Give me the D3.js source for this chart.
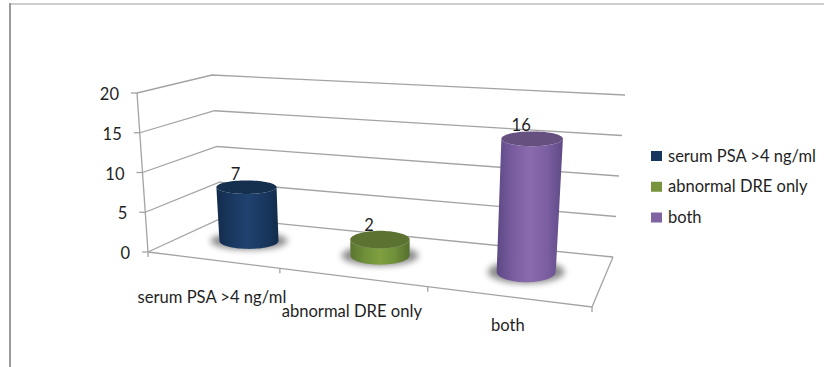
<!DOCTYPE html>
<html>
<head>
<meta charset="utf-8">
<script src="https://cdn.jsdelivr.net/npm/d3@7"></script>
<style>
  html, body { margin: 0; padding: 0; background: #fff; }
  svg { display: block; }
  text { font-family: Lato, "Open Sans", sans-serif; fill: #1f1f1f; }
</style>
</head>
<body>
<svg id="chart" width="824" height="367"></svg>
<script>
// Chart content
const categories = ["serum PSA >4 ng/ml", "abnormal DRE only", "both"];
const values = [7, 2, 16];
const yTicks = [0, 5, 10, 15, 20];
const sideShades = [
  ["#122c4c", "#1a3860", "#1f4270", "#1a3860", "#122c4c"],
  ["#5a7530", "#70903a", "#7f9f40", "#70903a", "#566f2d"],
  ["#5d4885", "#7a5da0", "#8a6bad", "#7c5fa2", "#5f4a86"]
];
const topColors = ["#15304f", "#5c7230", "#66507f"];
const legendColors = ["#17375e", "#77933c", "#8064a2"];

// Box corners of the oblique 3D plot, as [x, y] on the page
const floorFL = [148, 252], floorBL = [222, 218], floorBR = [613, 257], floorFR = [592, 307];
const ceilFL = [137, 93], ceilBL = [212, 75], ceilBR = [625, 95], ceilFR = [603, 128];

const svg = d3.select("#chart");
const defs = svg.append("defs");

const mix = (a, b, t) => [a[0] + (b[0] - a[0]) * t, a[1] + (b[1] - a[1]) * t];

// Category spacing along the front edge widens toward the viewer's right
const uScale = d3.scaleLinear().domain([0, 1, 2, 3]).range([0, 0.297, 0.63, 1]);
const vScale = d3.scaleLinear().domain([0, 20]).range([0, 1]);

// u: along the categories, d: front (0) to back (1), v: data value
function project(u, d, v) {
  const floor = mix(mix(floorFL, floorFR, u), mix(floorBL, floorBR, u), d);
  const ceil = mix(mix(ceilFL, ceilFR, u), mix(ceilBL, ceilBR, u), d);
  return mix(floor, ceil, vScale(v));
}

const line = d3.line();
const gridColor = "#a3a3a3";

// Frame around the chart area
svg.append("line").attr("x1", 9).attr("y1", 4).attr("x2", 824).attr("y2", 4)
  .attr("stroke", "#bdbdbd").attr("stroke-width", 1.5);
svg.append("line").attr("x1", 10).attr("y1", 3).attr("x2", 10).attr("y2", 367)
  .attr("stroke", "#9a9a9a").attr("stroke-width", 2);

// Walls: each value level runs front-left -> back-left -> back-right
const grid = svg.append("g").attr("fill", "none").attr("stroke", gridColor).attr("stroke-width", 1.3);
yTicks.forEach(t => {
  grid.append("path").attr("d", line([project(0, 0, t), project(0, 1, t), project(1, 1, t)]));
  const p = project(0, 0, t);
  grid.append("line").attr("x1", p[0] - 6).attr("y1", p[1]).attr("x2", p[0]).attr("y2", p[1]);
});
grid.append("path").attr("d", line([project(0, 0, 0), project(0, 0, 20)]));
// Floor front and right edges with category ticks
grid.append("path").attr("d", line([project(0, 0, 0), project(1, 0, 0), project(1, 1, 0)]));
[0, 1, 2, 3].forEach(i => {
  const p = project(uScale(i), 0, 0);
  grid.append("line").attr("x1", p[0]).attr("y1", p[1]).attr("x2", p[0]).attr("y2", p[1] + 5);
});

// Value-axis labels
svg.append("g").selectAll("text").data(yTicks).join("text")
  .attr("x", d => project(0, 0, d)[0] - 18)
  .attr("y", d => project(0, 0, d)[1] + 7)
  .attr("text-anchor", "end")
  .attr("font-size", 16.5)
  .text(d => d);

// Blur for the soft shadow under each cylinder
defs.append("filter").attr("id", "soft").attr("x", "-30%").attr("y", "-60%").attr("width", "160%").attr("height", "220%")
  .append("feGaussianBlur").attr("stdDeviation", 3);

const radiusU = 0.071, radiusD = 0.22, axisDepth = 0.53;
const ringAngles = d3.range(0, 2 * Math.PI, Math.PI / 36);

categories.forEach((name, i) => {
  const uc = uScale(i + 0.5);

  // Level ellipse around the cylinder axis at value v; depth sets how open it looks
  const ellipseAt = v => {
    const c = project(uc, axisDepth, v);
    const rx = project(uc + radiusU, axisDepth, v)[0] - c[0];
    const ry = radiusD * (project(uc, 0, v)[1] - project(uc, 1, v)[1]);
    return { c, rx, ry };
  };
  const ring = (e, a, kx = 1, ky = 1) => [e.c[0] + e.rx * kx * Math.cos(a), e.c[1] + e.ry * ky * Math.sin(a)];
  const base = ellipseAt(0), cap = ellipseAt(values[i]);

  const grad = defs.append("linearGradient").attr("id", `side${i}`);
  sideShades[i].forEach((c, j) => {
    grad.append("stop").attr("offset", `${j * 25}%`).attr("stop-color", c);
  });

  // Contact shadow
  svg.append("path")
    .attr("d", line(ringAngles.map(a => ring(base, a, 1.3, 1.12))) + "Z")
    .attr("fill", "#5e5e5e")
    .attr("opacity", 0.72)
    .attr("filter", "url(#soft)");

  // Cylinder wall: front half of the base joined to the front half of the top
  const front = d3.range(0, Math.PI + 0.001, Math.PI / 36);
  const wall = front.map(a => ring(base, a)).concat(front.slice().reverse().map(a => ring(cap, a)));
  svg.append("path").attr("d", line(wall) + "Z").attr("fill", `url(#side${i})`);

  // Cylinder cap
  svg.append("path")
    .attr("d", line(ringAngles.map(a => ring(cap, a))) + "Z")
    .attr("fill", topColors[i]);

  // Value label above the cap
  svg.append("text")
    .attr("x", cap.c[0] - 11)
    .attr("y", cap.c[1] - cap.ry)
    .attr("text-anchor", "middle")
    .attr("font-size", 16.5)
    .text(values[i]);
});

// Category labels stepping down along the slanted front edge
const labelBaseline = d3.scalePoint().domain(categories).range([303, 331]);
svg.append("g").selectAll("text").data(categories).join("text")
  .attr("x", (d, i) => project(uScale(i + 0.5), 0, 0)[0] - 2)
  .attr("y", d => labelBaseline(d))
  .attr("text-anchor", "middle")
  .attr("font-size", 16.6)
  .text(d => d);

// Legend
const legendY = d3.scalePoint().domain(categories).range([156, 217.5]);
const legend = svg.append("g").selectAll("g").data(categories).join("g")
  .attr("transform", d => `translate(651,${legendY(d)})`);
legend.append("rect").attr("x", 0).attr("y", -5).attr("width", 11).attr("height", 10)
  .attr("fill", (d, i) => legendColors[i]);
legend.append("text").attr("x", 17).attr("y", 5.5).attr("font-size", 16.5).text(d => d);
</script>
</body>
</html>
